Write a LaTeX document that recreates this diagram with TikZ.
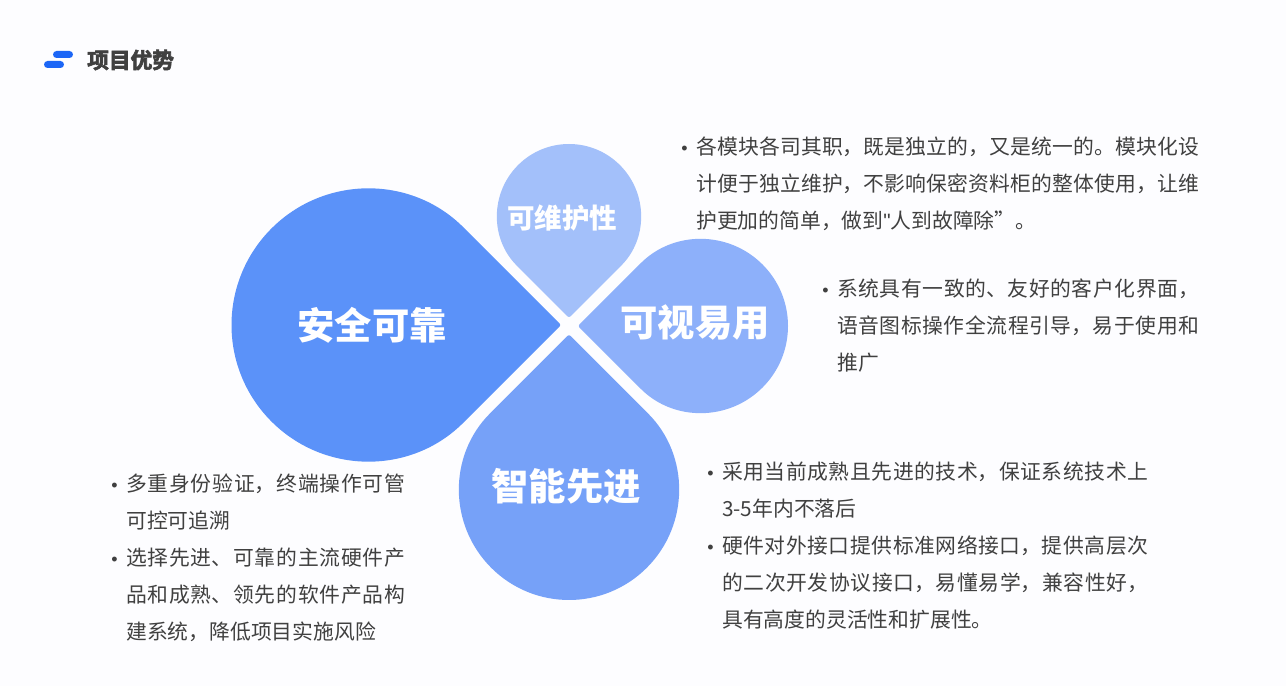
\documentclass[tikz,border=0pt]{standalone}
\usepackage{fontspec}
\setmainfont{Noto Sans CJK SC}
\newfontfamily\heavyfont[FakeBold=3]{Noto Sans CJK SC Bold}
\newfontfamily\dotfont{Liberation Sans}
\usepackage{tikz}
\usetikzlibrary{calc}
\XeTeXlinebreaklocale "zh"
\XeTeXlinebreakskip=0pt plus 1pt
\definecolor{pageback}{HTML}{FDFDFF}
\definecolor{logoblue}{HTML}{1C66F6}
\definecolor{safeblue}{HTML}{5B92F9}
\definecolor{smartblue}{HTML}{76A1F8}
\definecolor{viewblue}{HTML}{8DB0FA}
\definecolor{careblue}{HTML}{A3C0FA}
\definecolor{bodygrey}{HTML}{404040}
\tikzstyle{label}=[text=white, font=\bfseries\fontsize{37.3}{40}\selectfont, inner sep=0pt]
\tikzstyle{body}=[
	 anchor=north west, align=justify, inner sep=0pt,
	 text=bodygrey, font=\fontsize{20.8}{37}\selectfont
    ]
\newcommand{\petal}[5]{\fill[#5,rounded corners=2pt,shift={(#1,#2)},rotate=#4] (0:1.4142*#3) -- (45:#3) arc (45:315:#3) -- cycle}
\newcommand{\dotitem}{\leavevmode\llap{{\dotfont\fontsize{18}{18}\selectfont •}\hspace{8.5pt}}}

\begin{document}
\begin{tikzpicture}[x=1pt,y=1pt]

\fill[pageback] (0,0) rectangle (1286,686);
\useasboundingbox (0,0) rectangle (1286,686);

% logo and heading
\fill[logoblue,rounded corners=3.5pt] (53,635) rectangle (73,628);
\fill[logoblue,rounded corners=3.5pt] (44,625) rectangle (64,618);
\node[anchor=west, inner sep=0pt, text=bodygrey, font=\heavyfont\fontsize{21.7}{24}\selectfont] (title) at (87,626) {项目优势};

% petals
\petal{368}{361}{136.5}{0}{safeblue};
\petal{569}{470}{72}{270}{careblue};
\petal{701}{360}{87}{180}{viewblue};
\petal{569}{196}{110}{90}{smartblue};

\node[label] (safe) at (372,361) {安全可靠};
\node[label] (view) at (695,363) {可视易用};
\node[label] (smart) at (566,200) {智能先进};
\node[label, font=\bfseries\fontsize{27.5}{30}\selectfont] (care) at (562,468) {可维护性};

% texts
\node[body, text width=503pt] (careText) at (696,549) {\dotitem 各模块各司其职，既是独立的，又是统一的。模块化设计便于独立维护，不影响保密资料柜的整体使用，让维护更加的简单，做到{\dotfont"}人到故障除”。};
\node[body, text width=362pt] (viewText) at (837,407) {\dotitem 系统具有一致的、友好的客户化界面，语音图标操作全流程引导，易于使用和推广};
\node[body, text width=426pt] (smartText) at (722,224) {\dotitem 采用当前成熟且先进的技术，保证系统技术上3-5年内不落后\par\dotitem 硬件对外接口提供标准网络接口，提供高层次的二次开发协议接口，易懂易学，兼容性好，具有高度的灵活性和扩展性。};
\node[body, text width=279pt] (safeText) at (126,212) {\dotitem 多重身份验证，终端操作可管可控可追溯\par\dotitem 选择先进、可靠的主流硬件产品和成熟、领先的软件产品构建系统，降低项目实施风险};

\end{tikzpicture}
\end{document}
